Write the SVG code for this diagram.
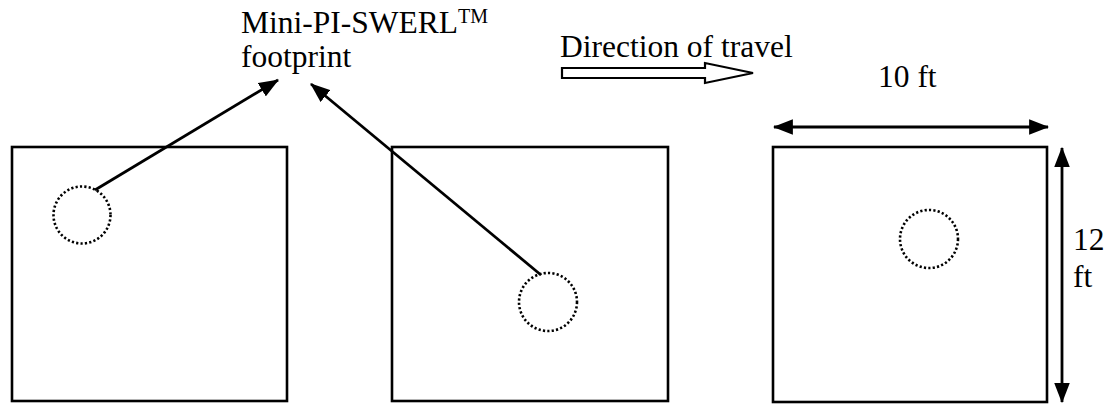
<svg xmlns="http://www.w3.org/2000/svg" width="1108" height="404" viewBox="0 0 1108 404">
  <style>
    .txt { font-family: "Liberation Serif", "Times New Roman", serif; fill: #000; }
    .big { font-size: 31.5px; }
    .sup { font-size: 20px; }
    .sq { fill: none; stroke: #000; stroke-width: 2.6; }
    .fp { fill: none; stroke: #000; stroke-width: 2.6; stroke-dasharray: 2.2 2.2; }
    .con { fill: none; stroke: #000; stroke-width: 2.8; }
  </style>
  <defs>
    <marker id="ah" markerUnits="userSpaceOnUse" markerWidth="20" markerHeight="16" refX="17" refY="7" orient="auto-start-reverse" viewBox="0 0 18 14">
      <path d="M0,0 L18,7 L0,14 Z" fill="#000"/>
    </marker>
  </defs>
  <rect width="1108" height="404" fill="#fff"/>

  <g id="label-footprint">
    <text class="txt big" x="241" y="33">Mini-PI-SWERL<tspan class="sup" dy="-10">TM</tspan></text>
    <text class="txt big" x="241" y="67">footprint</text>
  </g>

  <g id="direction">
    <text class="txt big" x="560" y="57">Direction of travel</text>
    <polygon points="562,68 705,68 705,63 753,73 705,83 705,78 562,78" fill="#fff" stroke="#000" stroke-width="2.2"/>
  </g>

  <g id="square-left">
    <rect class="sq" x="12" y="147" width="275" height="254"/>
    <circle class="fp" cx="82" cy="215" r="28.5"/>
  </g>

  <g id="square-middle">
    <rect class="sq" x="392" y="147" width="276" height="254"/>
    <circle class="fp" cx="548" cy="302" r="29"/>
  </g>

  <g id="square-right">
    <rect class="sq" x="773" y="147" width="274" height="255"/>
    <circle class="fp" cx="929" cy="239" r="29"/>
  </g>

  <g id="dim-width">
    <text class="txt big" x="878" y="87">10 ft</text>
  </g>
  <g id="dim-height">
    <text class="txt big" x="1073" y="250">12</text>
    <text class="txt big" x="1073" y="287">ft</text>
  </g>

  <g id="connectors">
    <line class="con" x1="95" y1="190" x2="278" y2="80" marker-end="url(#ah)"/>
    <line class="con" x1="541" y1="275" x2="311" y2="84" marker-end="url(#ah)"/>
    <line class="con" x1="774" y1="127" x2="1048" y2="127" marker-start="url(#ah)" marker-end="url(#ah)"/>
    <line class="con" x1="1062" y1="148" x2="1062" y2="402" marker-start="url(#ah)" marker-end="url(#ah)"/>
  </g>
</svg>
